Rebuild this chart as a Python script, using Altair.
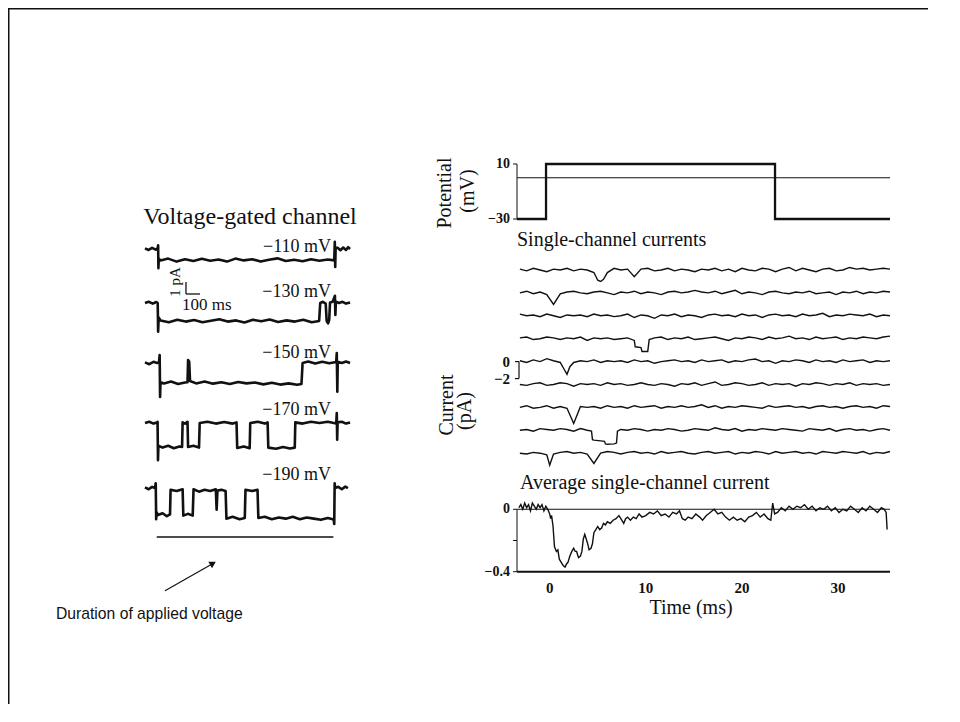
import altair as alt
import pandas as pd

SERIF = "Liberation Serif"
SANS = "Liberation Sans"
INK = "#111111"
W, H = 920, 696


def px(x):  # page x -> view x (8px page margin)
    return x - 8


def py(y):
    return y - 8


# ---------------- left panel: voltage-gated channel records ----------------
# (time in ms, current in pA relative to the holding level)
LEFT_LABELS = ["\u2212110 mV", "\u2212130 mV", "\u2212150 mV", "\u2212170 mV", "\u2212190 mV"]

REC_110 = [(14, 0.05), (40, -0.08), (65, 0.1), (90, -0.05), (104, 0.05),
           (108, 0.3), (110, -1.6), (113, -0.8),
           (125, -0.95), (180, -0.8), (240, -1.05), (300, -0.85), (360, -1.0), (420, -0.82),
           (480, -0.98), (540, -0.88), (600, -1.05), (660, -0.8), (720, -0.95), (780, -0.85),
           (840, -1.05), (900, -0.9), (960, -0.78), (1020, -1.0), (1080, -0.9), (1140, -1.02),
           (1200, -0.85), (1260, -0.98), (1320, -0.88), (1366, -0.95),
           (1370, 0.6), (1373, -1.5), (1376, 0.1),
           (1390, 0.1), (1410, -0.1), (1430, 0.12), (1450, -0.08), (1465, 0.15), (1479, 0.0)]

REC_130 = [(14, 0.0), (40, 0.1), (70, -0.05), (95, 0.08), (105, 0.0),
           (108, -2.4), (112, -1.2),
           (125, -1.45), (185, -1.6), (245, -1.4), (305, -1.55), (365, -1.42), (425, -1.6),
           (485, -1.48), (545, -1.35), (605, -1.55), (665, -1.45), (725, -1.62), (785, -1.4),
           (845, -1.52), (905, -1.38), (965, -1.58), (1025, -1.45), (1085, -1.55), (1145, -1.4),
           (1205, -1.6), (1258, -1.5),
           (1266, 0.0), (1285, 0.1), (1305, -0.05),
           (1312, -1.5), (1322, -1.7), (1330, -1.4), (1336, 0.05), (1355, 0.1),
           (1371, 0.6), (1374, -1.0), (1378, 0.1),
           (1400, 0.0), (1425, 0.1), (1450, -0.05), (1479, 0.05)]

REC_150 = [(14, 0.05), (45, -0.1), (75, 0.1), (100, 0.0), (114, 0.05),
           (119, 0.67), (122, -2.83), (125, -1.6),
           (150, -1.7), (200, -1.55), (250, -1.75), (300, -1.62),
           (318, -1.6), (322, 0.25), (330, 0.1), (336, -1.5),
           (380, -1.7), (440, -1.55), (500, -1.72), (560, -1.6), (620, -1.75), (680, -1.58),
           (740, -1.7), (800, -1.62), (860, -1.78), (920, -1.65), (980, -1.8), (1040, -1.7),
           (1100, -1.82), (1132, -1.75),
           (1140, 0.0), (1180, 0.12), (1230, -0.05), (1280, 0.1), (1330, -0.02), (1380, 0.08),
           (1384, 0.83), (1388, -2.4), (1391, 0.1),
           (1420, 0.0), (1450, 0.12), (1479, 0.0)]

REC_170 = [(14, 0.0), (45, 0.1), (75, -0.05), (100, 0.05),
           (104, 0.1), (107, -3.1), (110, -1.9),
           (140, -2.05), (180, -1.9), (220, -2.1), (260, -1.95), (279, -2.0),
           (283, 0.05), (300, -0.05), (318, 0.1),
           (322, -2.0), (360, -1.9), (400, -2.05),
           (405, 0.0), (460, 0.1), (520, -0.05), (580, 0.08), (640, -0.05), (668, 0.05),
           (673, -2.08), (720, -1.95), (762, -2.1),
           (766, 0.0), (820, 0.1), (870, -0.05), (890, 0.05),
           (895, -2.05), (950, -2.15), (1000, -2.0), (1050, -2.12), (1084, -2.05),
           (1088, 0.05), (1140, -0.05), (1200, 0.1), (1260, 0.0), (1320, 0.1), (1380, -0.05),
           (1384, 0.83), (1387, -1.4), (1390, 0.05),
           (1420, 0.1), (1450, -0.05), (1479, 0.05)]

REC_190 = [(14, 0.05), (40, -0.1), (65, 0.1), (85, 0.0),
           (91, 0.4), (94, -2.6), (97, -2.0),
           (107, -2.25), (140, -2.1), (170, -2.35), (193, -2.2),
           (197, -0.15), (240, -0.25), (283, -0.1),
           (288, -2.3), (320, -2.15), (355, -2.3),
           (361, -0.1), (400, -0.3), (440, -0.15), (480, -0.25), (520, -0.1), (526, -1.8),
           (532, -0.2), (560, -0.15), (590, -0.25),
           (596, -2.55), (640, -2.4), (690, -2.6), (727, -2.5),
           (732, -0.15), (780, -0.25), (818, -0.15),
           (824, -2.5), (870, -2.4), (920, -2.6), (970, -2.45), (1020, -2.55), (1070, -2.4),
           (1120, -2.6), (1170, -2.45), (1220, -2.55), (1270, -2.65), (1320, -2.5), (1355, -2.6),
           (1362, -2.6), (1366, -3.0), (1369, 0.4), (1372, 0.0),
           (1395, 0.1), (1420, -0.1), (1445, 0.12), (1464, 0.0)]

LEFT_RECORDS = [REC_110, REC_130, REC_150, REC_170, REC_190]
DURATION_MS = [98, 1360]          # bar showing the applied-voltage interval
SCALE_BAR_MS = 100
SCALE_BAR_PA = 1

# ---------------- right panel ----------------
POT_T = [-3.4, -0.38, -0.38, 23.44, 23.44, 35.4]
POT_MV = [-30, -30, 10, 10, -30, -30]
POT_TICKS = [10, -30]
POT_TICK_LABELS = ["10", "\u221230"]

SC_T = [-3.1, -2.4, -1.7, -1.0, -0.3, 0.4, 1.1, 1.8, 2.5, 3.2, 3.9, 4.6, 5.3, 6.0,
        6.7, 7.4, 8.1, 8.8, 9.5, 10.2, 10.9, 11.6, 12.3, 13.0, 13.7, 14.4, 15.1, 15.8,
        16.5, 17.2, 17.9, 18.6, 19.3, 20.0, 20.7, 21.4, 22.1, 22.8, 23.5, 24.2, 24.9, 25.6,
        26.3, 27.0, 27.7, 28.4, 29.1, 29.8, 30.5, 31.2, 31.9, 32.6, 33.3, 34.0, 34.7, 35.4]

SC1 = [0.1, -0.1, 0.2, 0.0, -0.2, 0.1, 0.0, 0.2,
       -0.1, 0.1, 0.0, -0.3, -1.35, -0.3, 0.2, 0.0,
       0.1, -0.8, 0.1, 0.2, -0.1, 0.0, 0.2, -0.1,
       0.1, 0.0, -0.2, 0.1, 0.0, 0.2, -0.1, 0.1,
       -0.2, 0.2, 0.0, -0.1, 0.2, 0.1, -0.2, 0.1,
       0.3, -0.1, 0.2, 0.0, -0.2, 0.1, 0.2, -0.1,
       0.0, 0.3, 0.1, 0.2, 0.0, 0.1, 0.2, 0.1]
SC2 = [0.0, 0.2, -0.1, 0.1, -0.2, -1.35, -0.1, 0.1,
       0.2, 0.0, -0.1, 0.1, 0.2, 0.0, -0.2, 0.1,
       0.0, 0.2, -0.1, 0.1, 0.0, -0.2, 0.1, 0.2,
       0.0, 0.1, 0.3, 0.1, 0.0, 0.2, -0.1, 0.1,
       0.3, -0.1, 0.1, 0.0, -0.2, 0.1, 0.2, 0.0,
       -0.1, 0.1, 0.0, 0.2, -0.1, 0.0, 0.1, -0.2,
       0.1, 0.0, 0.2, -0.1, 0.1, 0.0, 0.2, 0.1]
SC3 = [0.2, 0.0, 0.1, -0.1, 0.2, 0.0, -0.2, 0.1,
       0.0, 0.1, -0.1, 0.2, 0.0, 0.1, -0.1, 0.0,
       0.2, -0.2, 0.1, 0.0, -0.3, 0.1, 0.0, 0.2,
       -0.1, 0.1, 0.0, -0.2, 0.1, 0.2, 0.0, 0.1,
       -0.1, 0.2, 0.0, 0.1, -0.2, 0.1, 0.2, 0.0,
       0.1, -0.1, 0.2, 0.0, 0.1, 0.3, -0.1, 0.1,
       0.0, 0.2, 0.1, 0.0, 0.2, -0.1, 0.1, 0.0]
SC4 = [0.1, 0.2, -0.1, 0.0, 0.2, 0.1, -0.1, 0.1,
       0.0, 0.2, -0.2, 0.1, 0.0, 0.1, -0.1, 0.0,
       0.1, -0.2, -1.05, -1.5, 0.1, 0.2, -0.1, 0.1,
       0.0, 0.2, -0.1, 0.0, 0.1, 0.2, 0.0, -0.2,
       0.1, 0.0, 0.2, 0.1, -0.1, 0.2, 0.0, 0.1,
       0.3, 0.0, 0.1, -0.1, 0.2, 0.0, 0.1, 0.2,
       -0.1, 0.1, 0.0, 0.2, 0.1, 0.0, 0.2, 0.3]
SC5 = [0.1, -0.1, 0.2, 0.0, 0.35, 0.1, -0.1, -1.5,
       -0.1, 0.1, 0.0, 0.2, -0.1, 0.1, 0.0, 0.1,
       -0.1, 0.2, 0.0, 0.1, -0.2, 0.0, 0.1, 0.2,
       0.0, 0.1, -0.1, 0.2, 0.0, 0.1, 0.2, -0.1,
       0.1, 0.0, 0.2, 0.3, 0.0, 0.1, -0.2, 0.1,
       0.0, 0.2, 0.1, -0.1, 0.2, 0.0, 0.1, -0.1,
       0.2, 0.0, 0.1, 0.2, -0.1, 0.1, 0.0, 0.1]
SC6 = [0.0, -0.1, 0.1, 0.2, -0.1, 0.0, 0.2, 0.1,
       -0.2, 0.1, 0.0, 0.1, -0.1, 0.2, 0.0, 0.1,
       -0.1, 0.0, 0.2, 0.0, -0.1, 0.1, 0.0, -0.2,
       0.1, 0.0, 0.2, -0.1, 0.1, 0.3, -0.1, 0.0,
       0.2, 0.1, -0.1, 0.0, 0.2, -0.1, 0.1, 0.0,
       0.1, -0.2, 0.1, 0.0, 0.2, 0.1, -0.1, 0.1,
       0.0, 0.2, -0.1, 0.1, 0.0, 0.1, -0.1, 0.0]
SC7 = [0.0, 0.2, -0.1, 0.0, 0.2, -0.1, 0.1, -0.1,
       -1.9, 0.1, 0.0, 0.1, -0.1, 0.2, 0.0, 0.1,
       -0.1, 0.2, 0.0, 0.1, 0.2, -0.1, 0.1, 0.0,
       0.2, 0.0, 0.1, 0.3, 0.0, 0.2, -0.1, 0.1,
       0.0, 0.2, 0.1, 0.0, -0.1, 0.2, 0.0, 0.1,
       0.2, 0.0, 0.1, -0.1, 0.1, 0.2, 0.0, 0.1,
       -0.1, 0.1, 0.2, 0.0, 0.1, -0.1, 0.2, 0.1]
SC8 = [0.0, 0.1, -0.1, 0.2, 0.1, 0.0, 0.2, 0.1,
       -0.1, 0.2, 0.0, -1.15, -1.25, -1.65, -1.6, 0.1,
       0.0, 0.2, 0.1, -0.1, 0.1, 0.0, 0.2, 0.1,
       -0.1, 0.0, 0.2, 0.1, 0.0, 0.3, 0.1, 0.0,
       0.2, -0.1, 0.1, 0.0, 0.2, 0.1, 0.0, 0.2,
       0.1, 0.0, -0.1, 0.2, 0.1, 0.0, 0.2, -0.1,
       0.1, 0.2, 0.0, 0.1, -0.1, 0.1, 0.2, 0.0]
SC9 = [0.0, -0.1, 0.1, 0.0, -0.2, -0.1, 0.1, 0.2,
       0.0, 0.1, -0.1, -1.2, 0.0, 0.2, 0.1, -0.1,
       0.1, 0.2, 0.0, 0.1, -0.1, 0.2, 0.0, 0.1,
       0.2, 0.0, -0.1, 0.1, 0.2, 0.0, 0.1, 0.2,
       -0.1, 0.1, 0.0, 0.2, 0.1, -0.1, 0.2, 0.0,
       0.1, 0.2, 0.0, 0.1, -0.1, 0.2, 0.1, 0.0,
       0.2, 0.1, 0.0, 0.2, -0.1, 0.1, 0.0, 0.2]
SC_SWEEPS = [SC1, SC2, SC3, SC4, SC5, SC6, SC7, SC8, SC9]
SC_EXTRA = {
    0: [(5.0, -1.2), (5.6, -1.1)],
    3: [(8.9, -0.95), (9.6, -1.5), (10.35, -0.1)],
    4: [(1.5, -0.9), (2.1, -0.6)],
    7: [(4.35, -0.1), (4.45, -1.1), (5.7, -1.3), (5.8, -1.6), (6.95, -1.5), (7.05, -0.1)],
    8: [(0.0, -1.4)],
}
SC_REF_SWEEP = 4                 # sweep carrying the 0 / -2 pA calibration
SC_CAL_TICKS = [0, -2]
SC_CAL_LABELS = ["0", "\u22122"]

AVG_T = [-3.2, -3.0, -2.8, -2.6, -2.4, -2.2, -2.0, -1.8, -1.6, -1.4, -1.2, -1.0, -0.8, -0.6,
         -0.4, -0.2, 0.0, 0.1, 0.2, 0.35, 0.5, 0.7, 0.85, 1.0, 1.2, 1.4, 1.6, 1.75, 1.9, 2.1,
         2.3, 2.5, 2.65, 2.8, 3.0, 3.2, 3.35, 3.5, 3.65, 3.8, 3.95, 4.1, 4.3, 4.45, 4.6, 4.8,
         5.0, 5.2, 5.4, 5.6, 5.8, 6.0, 6.3, 6.6, 6.9, 7.2, 7.5, 7.7, 7.9, 8.1, 8.4, 8.7, 9.0,
         9.3, 9.6, 10.0, 10.4, 10.8, 11.2, 11.6, 12.0, 12.4, 12.8, 13.2, 13.5, 13.8, 14.1,
         14.4, 14.8, 15.2, 15.6, 15.9, 16.3, 16.7, 17.1, 17.5, 17.9, 18.3, 18.7, 19.1, 19.5,
         19.9, 20.3, 20.7, 21.1, 21.5, 21.9, 22.3, 22.7, 23.0, 23.2, 23.4, 23.7, 24.1, 24.5,
         24.9, 25.3, 25.7, 26.1, 26.5, 26.9, 27.3, 27.7, 28.1, 28.5, 28.9, 29.3, 29.7, 30.1,
         30.5, 30.9, 31.3, 31.7, 32.1, 32.5, 32.9, 33.3, 33.7, 34.1, 34.5, 34.8, 35.0, 35.1]
AVG_PA = [0.01, 0.03, 0.0, 0.04, 0.01, 0.03, -0.01, 0.04, 0.02, 0.0, 0.03, 0.01, 0.03, -0.01,
          0.02, 0.0, -0.03, -0.06, -0.04, -0.11, -0.24, -0.27, -0.26, -0.32, -0.34, -0.36,
          -0.37, -0.35, -0.34, -0.30, -0.27, -0.25, -0.27, -0.27, -0.31, -0.30, -0.27, -0.19,
          -0.16, -0.19, -0.22, -0.26, -0.25, -0.22, -0.15, -0.13, -0.11, -0.13, -0.12, -0.09,
          -0.10, -0.08, -0.09, -0.07, -0.06, -0.04, -0.07, -0.09, -0.06, -0.05, -0.07, -0.05,
          -0.06, -0.03, -0.05, -0.04, -0.02, -0.03, -0.01, -0.04, -0.03, -0.05, -0.02, -0.03,
          -0.01, -0.06, -0.07, -0.05, -0.06, -0.03, -0.05, -0.07, -0.04, -0.02, 0.0, -0.03,
          -0.02, -0.05, -0.07, -0.05, -0.07, -0.06, -0.08, -0.05, -0.04, -0.02, -0.05, -0.03,
          -0.06, -0.07, 0.04, -0.03, -0.02, 0.01, -0.01, 0.02, 0.0, 0.02, 0.01, 0.03, 0.0,
          0.02, -0.01, 0.01, 0.0, 0.02, -0.01, 0.01, -0.02, 0.0, -0.01, 0.02, 0.0, -0.02,
          0.01, -0.01, 0.02, 0.0, -0.02, 0.01, 0.0, -0.02, -0.13]
AVG_TICKS = [0, -0.2, -0.4]
AVG_TICK_LABELS = ["0", "", "\u22120.4"]
TIME_TICKS = [0, 10, 20, 30]

# ---------------- layout (scales map data into panel positions) ----------------
T_MIN, T_MAX = -3.4, 35.4
XR = alt.Scale(domain=[T_MIN, T_MAX], range=[px(517), px(890)], nice=False, zero=False)
Y_POT = alt.Scale(domain=[-30, 10], range=[py(219), py(164)], nice=False, zero=False)
Y_SC = alt.Scale(domain=[-14, 12], range=[py(480.6), py(259.6)], nice=False, zero=False)
Y_AVG = alt.Scale(domain=[-0.4, 0], range=[py(571.7), py(509.3)], nice=False, zero=False)
XL = alt.Scale(domain=[0, 1500], range=[px(143), px(353)], nice=False, zero=False)
YL = alt.Scale(domain=[-24, 1.5], range=[py(537), py(231)], nice=False, zero=False)
LEFT_OFFSET = [0, -4.5, -9.5, -14.5, -19.92]
SC_GAP = 2.694

ONE = pd.DataFrame({"k": [0]})
layers = []


def txt(s, x, y, size, font=SERIF, align="left", baseline="alphabetic", angle=0):
    return alt.Chart(ONE).mark_text(text=s, font=font, fontSize=size, align=align,
                                    baseline=baseline, angle=angle, color=INK).encode(
        x=alt.value(px(x)), y=alt.value(py(y)))


# slide frame (top and left edges)
layers.append(alt.Chart(ONE).mark_rule(color=INK, strokeWidth=1.5).encode(
    x=alt.value(0), x2=alt.value(W), y=alt.value(0.75)))
layers.append(alt.Chart(ONE).mark_rule(color=INK, strokeWidth=1.5).encode(
    x=alt.value(0.75), y=alt.value(0), y2=alt.value(H)))

# ----- left records -----
rows = []
for i, rec in enumerate(LEFT_RECORDS):
    for j, (t, v) in enumerate(rec):
        rows.append({"trace": i, "i": j, "t": t, "v": v + LEFT_OFFSET[i]})
left_df = pd.DataFrame(rows)
layers.append(alt.Chart(left_df).mark_line(color=INK, strokeWidth=2.6,
                                           strokeJoin="round").encode(
    x=alt.X("t:Q", scale=XL, axis=None), y=alt.Y("v:Q", scale=YL, axis=None),
    detail="trace:N", order="i:Q"))

# duration bar
dur_df = pd.DataFrame({"t0": [DURATION_MS[0]], "t1": [DURATION_MS[1]], "v": [-24]})
layers.append(alt.Chart(dur_df).mark_rule(color=INK, strokeWidth=1.5).encode(
    x=alt.X("t0:Q", scale=XL, axis=None), x2="t1:Q", y=alt.Y("v:Q", scale=YL, axis=None)))

# scale bar (100 ms, 1 pA)
sb_t0, sb_v0 = 307, -3.75
sb_df = pd.DataFrame({"t0": [sb_t0, sb_t0], "t1": [sb_t0 + SCALE_BAR_MS, sb_t0],
                      "v0": [sb_v0, sb_v0], "v1": [sb_v0, sb_v0 + SCALE_BAR_PA]})
layers.append(alt.Chart(sb_df).mark_rule(color=INK, strokeWidth=1.3).encode(
    x=alt.X("t0:Q", scale=XL, axis=None), x2="t1:Q",
    y=alt.Y("v0:Q", scale=YL, axis=None), y2="v1:Q"))

layers.append(txt("Voltage-gated channel", 250, 224, 24, align="center"))
for lab, base in zip(LEFT_LABELS, [252, 297, 358, 415, 480]):
    layers.append(txt(lab, 331, base, 18, align="right"))
layers.append(txt("1 pA", 175, 282, 15, align="center", baseline="middle", angle=270))
layers.append(txt("100 ms", 182, 310, 17))

# arrow + caption
layers.append(alt.Chart(ONE).mark_rule(color=INK, strokeWidth=1.2).encode(
    x=alt.value(px(165)), y=alt.value(py(590.7)), x2=alt.value(px(213)), y2=alt.value(py(563.4))))
layers.append(alt.Chart(ONE).mark_point(shape="triangle-up", filled=True, size=55, angle=60.4,
                                        color=INK, opacity=1).encode(
    x=alt.value(px(213)), y=alt.value(py(563.4))))
layers.append(txt("Duration of applied voltage", 56, 619, 15.7, font=SANS))

# ----- potential panel -----
pot_df = pd.DataFrame({"i": range(len(POT_T)), "t": POT_T, "mv": POT_MV})
layers.append(alt.Chart(pd.DataFrame({"t0": [T_MIN], "t1": [T_MAX], "v": [0]})).mark_rule(
    color=INK, strokeWidth=1.0).encode(
    x=alt.X("t0:Q", scale=XR, axis=None), x2="t1:Q", y=alt.Y("v:Q", scale=Y_POT, axis=None)))
layers.append(alt.Chart(pot_df).mark_line(color=INK, strokeWidth=2.3).encode(
    x=alt.X("t:Q", scale=XR, axis=None), y=alt.Y("mv:Q", scale=Y_POT, axis=None), order="i:Q"))
layers.append(alt.Chart(pd.DataFrame({"t": [T_MIN], "a": [-30], "b": [10]})).mark_rule(
    color=INK, strokeWidth=1.0).encode(
    x=alt.X("t:Q", scale=XR, axis=None), y=alt.Y("a:Q", scale=Y_POT, axis=None), y2="b:Q"))
pt_df = pd.DataFrame({"v": POT_TICKS, "lab": POT_TICK_LABELS})
layers.append(alt.Chart(pt_df).mark_rule(color=INK, strokeWidth=1.0).encode(
    x=alt.value(px(513)), x2=alt.value(px(517)), y=alt.Y("v:Q", scale=Y_POT, axis=None)))
layers.append(alt.Chart(pt_df).mark_text(align="right", baseline="middle", font=SERIF,
                                         fontSize=14, fontWeight="bold", color=INK).encode(
    x=alt.value(px(510)), y=alt.Y("v:Q", scale=Y_POT, axis=None), text="lab:N"))
layers.append(txt("Potential", 445, 193, 20, align="center", baseline="middle", angle=270))
layers.append(txt("(mV)", 468, 191, 20, align="center", baseline="middle", angle=270))

# ----- single-channel sweeps -----
rows = []
for i, sweep in enumerate(SC_SWEEPS):
    pts = list(zip(SC_T, sweep)) + SC_EXTRA.get(i, [])
    pts.sort(key=lambda p: p[0])
    for j, (t, v) in enumerate(pts):
        rows.append({"trace": i, "i": j, "t": t, "v": v + (SC_REF_SWEEP - i) * SC_GAP})
sc_df = pd.DataFrame(rows)
layers.append(txt("Single-channel currents", 517, 246, 20))
layers.append(alt.Chart(sc_df).mark_line(color=INK, strokeWidth=1.4).encode(
    x=alt.X("t:Q", scale=XR, axis=None), y=alt.Y("v:Q", scale=Y_SC, axis=None),
    detail="trace:N", order="i:Q"))
cal_df = pd.DataFrame({"v": SC_CAL_TICKS, "lab": SC_CAL_LABELS})
layers.append(alt.Chart(pd.DataFrame({"a": [SC_CAL_TICKS[0]], "b": [SC_CAL_TICKS[1]]})).mark_rule(
    color=INK, strokeWidth=1.2).encode(
    x=alt.value(px(519)), y=alt.Y("a:Q", scale=Y_SC, axis=None), y2="b:Q"))
layers.append(alt.Chart(cal_df).mark_rule(color=INK, strokeWidth=1.2).encode(
    x=alt.value(px(515)), x2=alt.value(px(519)), y=alt.Y("v:Q", scale=Y_SC, axis=None)))
layers.append(alt.Chart(cal_df).mark_text(align="right", baseline="middle", font=SERIF,
                                          fontSize=15, fontWeight="bold", color=INK).encode(
    x=alt.value(px(510)), y=alt.Y("v:Q", scale=Y_SC, axis=None), text="lab:N"))
layers.append(txt("Current", 446.5, 405, 20, align="center", baseline="middle", angle=270))
layers.append(txt("(pA)", 465, 411, 20, align="center", baseline="middle", angle=270))

# ----- average current panel -----
layers.append(txt("Average single-channel current", 520, 489, 20))
avg_df = pd.DataFrame({"i": range(len(AVG_T)), "t": AVG_T, "v": AVG_PA})
layers.append(alt.Chart(pd.DataFrame({"t0": [T_MIN], "t1": [T_MAX], "v": [0]})).mark_rule(
    color=INK, strokeWidth=1.1).encode(
    x=alt.X("t0:Q", scale=XR, axis=None), x2="t1:Q", y=alt.Y("v:Q", scale=Y_AVG, axis=None)))
layers.append(alt.Chart(pd.DataFrame({"t0": [T_MIN], "t1": [T_MAX], "v": [-0.4]})).mark_rule(
    color=INK, strokeWidth=2.0).encode(
    x=alt.X("t0:Q", scale=XR, axis=None), x2="t1:Q", y=alt.Y("v:Q", scale=Y_AVG, axis=None)))
layers.append(alt.Chart(pd.DataFrame({"t": [T_MIN], "a": [-0.4], "b": [0]})).mark_rule(
    color=INK, strokeWidth=1.0).encode(
    x=alt.X("t:Q", scale=XR, axis=None), y=alt.Y("a:Q", scale=Y_AVG, axis=None), y2="b:Q"))
layers.append(alt.Chart(avg_df).mark_line(color=INK, strokeWidth=1.4).encode(
    x=alt.X("t:Q", scale=XR, axis=None), y=alt.Y("v:Q", scale=Y_AVG, axis=None), order="i:Q"))
at_df = pd.DataFrame({"v": AVG_TICKS, "lab": AVG_TICK_LABELS})
layers.append(alt.Chart(at_df).mark_rule(color=INK, strokeWidth=1.0).encode(
    x=alt.value(px(513)), x2=alt.value(px(517)), y=alt.Y("v:Q", scale=Y_AVG, axis=None)))
layers.append(alt.Chart(at_df).mark_text(align="right", baseline="middle", font=SERIF,
                                         fontSize=14, fontWeight="bold", color=INK).encode(
    x=alt.value(px(510)), y=alt.Y("v:Q", scale=Y_AVG, axis=None), text="lab:N"))
xt_df = pd.DataFrame({"t": TIME_TICKS, "lab": [str(v) for v in TIME_TICKS]})
layers.append(alt.Chart(xt_df).mark_text(align="center", baseline="alphabetic", font=SERIF,
                                         fontSize=15, fontWeight="bold", color=INK).encode(
    x=alt.X("t:Q", scale=XR, axis=None), y=alt.value(py(593)), text="lab:N"))
layers.append(txt("Time (ms)", 691, 614, 20, align="center"))

chart = alt.layer(*layers).resolve_scale(x="independent", y="independent").properties(
    width=W, height=H, padding=0, autosize=alt.AutoSizeParams(type="none"),
    background="white").configure_view(stroke=None)

chart.save("out.html", embed_options={"renderer": "svg", "actions": False})
